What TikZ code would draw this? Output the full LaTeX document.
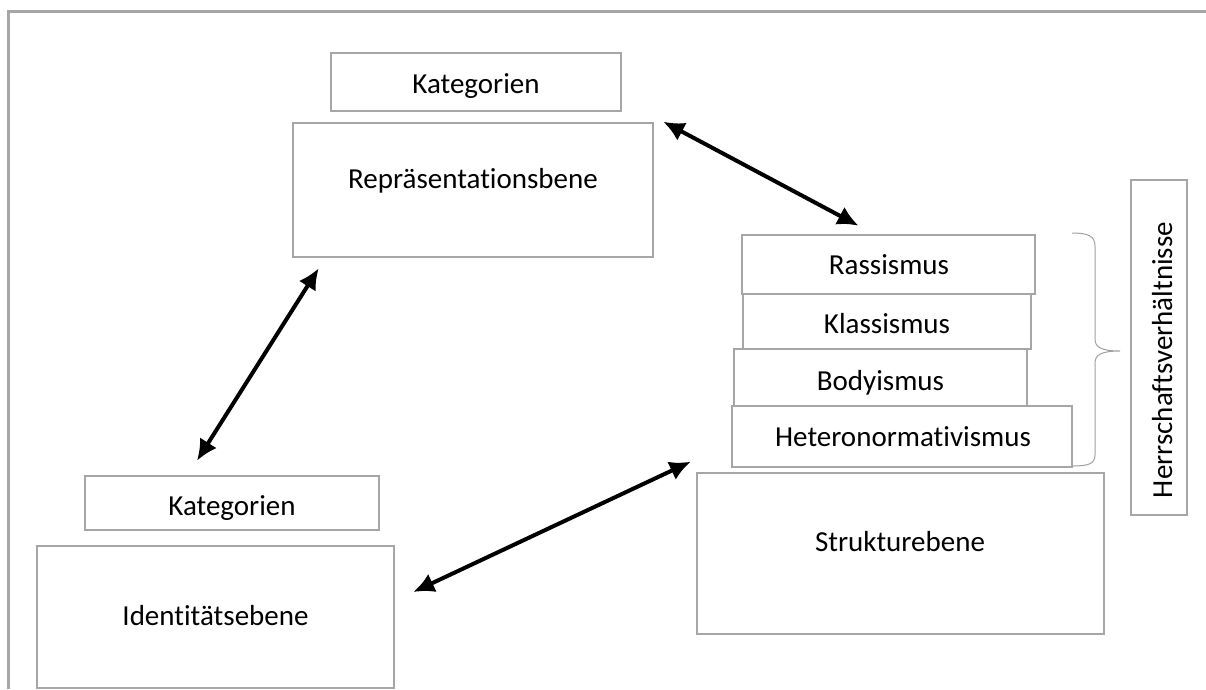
\documentclass[tikz,border=0pt]{standalone}
\usepackage{fontspec}
\setmainfont{Carlito}[Ligatures={NoCommon,NoContextual}]
\usetikzlibrary{arrows.meta}
\definecolor{boxgray}{HTML}{A6A6A6}
\definecolor{bracegray}{HTML}{A0A0A0}
\tikzset{
  box/.style={draw=boxgray, line width=2.6pt, rectangle, inner sep=0pt, fill=white},
  txt/.style={anchor=base, inner sep=0pt, font=\fontsize{29}{34}\selectfont, text=black},
  link/.style={line width=4pt, black, {Latex[length=21pt,width=20pt]}-{Latex[length=21pt,width=20pt]}},
}
\begin{document}
\begin{tikzpicture}[x=1pt,y=-1pt]
\useasboundingbox (0,0) rectangle (1206,689);
% outer frame (cropped)
\draw[boxgray, line width=3pt] (8,689) -- (8,11) -- (1206,11);

% boxes
\node[box, minimum width=290pt, minimum height=58pt] (katT) at (476,82) {};
\node[box, minimum width=360pt, minimum height=134pt] (repr) at (473,190) {};
\node[box, minimum width=293pt, minimum height=59pt] (rass) at (888.5,264.5) {};
\node[box, minimum width=288pt, minimum height=55pt] (klass) at (887,321.5) {};
\node[box, minimum width=293pt, minimum height=57pt] (body) at (880.5,377.5) {};
\node[box, minimum width=340pt, minimum height=61pt] (hetero) at (902,436.5) {};
\node[box, minimum width=407pt, minimum height=161pt] (strukt) at (900.5,553.5) {};
\node[box, minimum width=56pt, minimum height=335pt] (herr) at (1159,347.5) {};
\node[box, minimum width=294pt, minimum height=54pt] (katB) at (232,503) {};
\node[box, minimum width=357pt, minimum height=142pt] (ident) at (215.5,617) {};

% texts
\node[txt] (tkatT) at (476,93) {Kategorien};
\node[txt] (trepr) at (473,188) {Repräsentationsbene};
\node[txt] (trass) at (889,274) {Rassismus};
\node[txt] (tklass) at (887,333) {Klassismus};
\node[txt] (tbody) at (880.5,390) {Bodyismus};
\node[txt] (thetero) at (903,446) {Heteronormativismus};
\node[txt] (tstrukt) at (900,551) {Strukturebene};
\node[txt, rotate=90] (therr) at (1172,360) {Herrschaftsverhältnisse};
\node[txt] (tkatB) at (232,515) {Kategorien};
\node[txt] (tident) at (215.5,625) {Identitätsebene};

% brace
\draw[bracegray, line width=1pt]
  (1072,233) .. controls (1088,233) and (1095,236) .. (1095,246)
  -- (1095,339) .. controls (1095,347) and (1101,351) .. (1120,351)
  .. controls (1101,351) and (1095,355) .. (1095,363)
  -- (1095,455) .. controls (1095,464) and (1088,466) .. (1072,466);

% connector end points
\coordinate (a1) at ([xshift=9pt,yshift=0pt]repr.north east);
\coordinate (a2) at ([xshift=-30pt,yshift=8pt]rass.north);
\coordinate (b1) at ([xshift=27pt,yshift=-10pt]repr.south west);
\coordinate (b2) at ([xshift=-35pt,yshift=14pt]katB.north);
\coordinate (c1) at ([xshift=18pt,yshift=25pt]ident.east);
\coordinate (c2) at ([xshift=-5pt,yshift=10pt]strukt.north west);

\draw[link] (a1) -- (a2);
\draw[link] (b1) -- (b2);
\draw[link] (c1) -- (c2);
\end{tikzpicture}
\end{document}
